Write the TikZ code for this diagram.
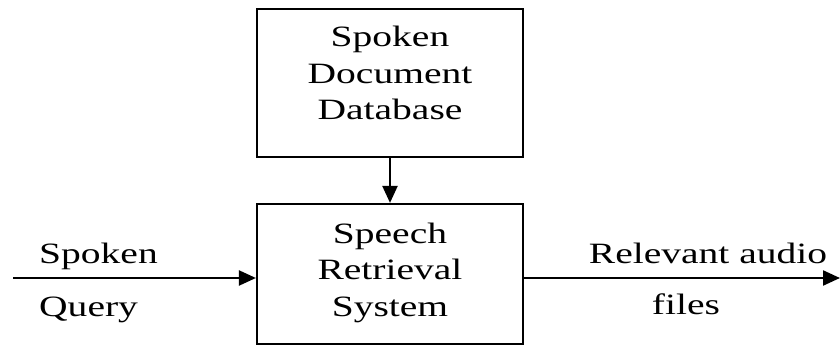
\documentclass[tikz,border=0pt]{standalone}
\usepackage{fontspec}
\setmainfont[FakeStretch=1.34]{Liberation Serif}
\usetikzlibrary{arrows.meta}
\begin{document}
\begin{tikzpicture}[x=1pt,y=-1pt,
  blockbox/.style={draw,line width=2.2pt,rectangle,inner sep=0pt},
  boxtext/.style={align=center,font=\fontsize{29.5}{36.5}\selectfont,anchor=base,inner sep=0pt},
  lbl/.style={font=\fontsize{29.5}{36.5}\selectfont,anchor=base,inner sep=0pt},
  conn/.style={line width=2.2pt,-{Triangle[length=17pt,width=15pt]}}]
\useasboundingbox (0,0) rectangle (840,347);
\node[blockbox,minimum width=266pt,minimum height=148pt] (db) at (390,83) {};
\node[blockbox,minimum width=266pt,minimum height=140pt] (srs) at (390,274) {};
\node[boxtext] (dbt) at (390,120) {Spoken\\Document\\Database};
\node[boxtext] (srst) at (390,316) {Speech\\Retrieval\\System};
\coordinate (qin) at (13,278);
\coordinate (out) at (840,278);
\draw[conn] (db.south) -- (srs.north);
\draw[conn] (qin) -- (qin -| srs.west);
\draw[conn] (out -| srs.east) -- (out);
\node[lbl,anchor=base west] (q1) at (39,263) {Spoken};
\node[lbl,anchor=base west] (q2) at (39,316) {Query};
\node[lbl] (r1) at (708,263) {Relevant audio};
\node[lbl] (r2) at (686,314) {files};
\end{tikzpicture}
\end{document}
